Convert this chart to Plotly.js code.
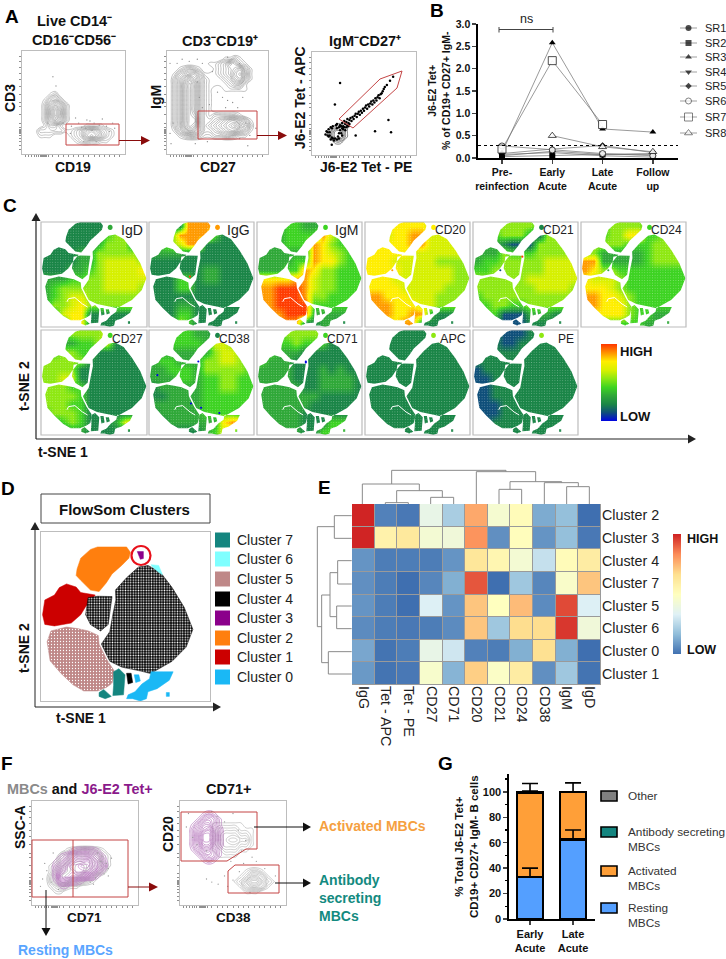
<!DOCTYPE html>
<html><head><meta charset="utf-8">
<script src="https://cdn.plot.ly/plotly-3.0.1.min.js"></script>
<style>html,body{margin:0;padding:0;background:#fff}#p{width:726px;height:959px}</style>
</head><body><div id="p"></div>
<script>
// ---------- Panel B data
const stages=['Pre-<br>reinfection','Early<br>Acute','Late<br>Acute','Follow<br>up'];
const SR1=[.05,.15,.08,.10], SR2=[.03,.05,.08,.08], SR3=[.12,2.58,.65,.58], SR4=[.08,.12,.05,.02];
const SR5=[.10,.20,.28,.12], SR6=[.27,.18,.10,.05], SR7=[.20,2.18,.75,null], SR8=[null,.50,.25,.14];
const srNames=['SR1','SR2','SR3','SR4','SR5','SR6','SR7','SR8'];
const srValues=[SR1,SR2,SR3,SR4,SR5,SR6,SR7,SR8];
const srSymbols=['circle','square','triangle-up','triangle-down','diamond','circle','square','triangle-up'];
const srOpen=[0,0,0,0,0,1,1,1];
const srSizes=[6,6,6,6,5,6,8,7];
// ---------- Panel E data
const heatCols=['IgG','Tet - APC','Tet - PE','CD27','CD71','CD20','CD21','CD24','CD38','IgM','IgD'];
const heatRows=['Cluster 2','Cluster 3','Cluster 4','Cluster 7','Cluster 5','Cluster 6','Cluster 0','Cluster 1'];
const heatZ=[
[1.0,.04,.02,.38,.22,.78,.45,.52,.13,.18,.0],
[1.0,.57,.62,.44,.42,.82,.07,.51,.08,.18,.02],
[.08,.03,.03,.03,.08,.63,.55,.44,.28,.52,.60],
[.07,.03,.0,.05,.14,.92,.0,.2,.05,.47,.72],
[.08,.03,.0,.33,.08,.72,.5,.74,.06,.94,.33],
[.06,.03,.02,.03,.06,.72,.2,.67,.67,.97,.42],
[.12,.01,.03,.38,.3,.04,.03,.14,.66,.14,.0],
[.09,.01,.02,.46,.15,.7,.48,.6,.07,.2,.01]];
const heatScale=['#3f6fb0','#8fbcd9','#dff1f6','#ffffbf','#fee090','#fc8d59','#d02424'];
// ---------- Panel G data
const gCats=['Early<br>Acute','Late<br>Acute'];
const resting=[33,62.5], activated=[66.5,37.5], antibody=[0,0], other=[.5,0];
const restingErr=[7,7.5], activatedErr=[7,7], otherErr=[.6,0];
// ---------- t-SNE map outline, map units
const mapOrange=[[23.6,85.7],[26,92.7],[32.4,98.4],[37,100],[56,100],[58.5,96.5],[57.5,92.7],[52.8,88],[46.5,82.5],[42.8,76.8],[38,71],[32.4,72],[26,78.3],[23,81.5]];
const mapRed=[[1,56],[2.5,65.6],[8.8,68.8],[12,73.6],[16.7,76],[23,74],[26,70.4],[35.5,68.8],[29,60.8],[26,56],[19.8,50.6],[8.8,48.7],[2.5,49.7]];
const mapSmall=[[30.8,67],[37,68],[46.5,67.8],[45,57.6],[44,49.7],[39,45.5],[32.4,49.6],[29.2,56]];
const mapLarge=[[48.7,72],[56,80],[63.8,87],[70,88],[78,83.8],[85.8,73.6],[93.7,60.8],[99.4,46.5],[95,35],[85.8,25.8],[71.7,17.8],[65.4,19.4],[52.8,22],[45,25.8],[39.5,37],[45,45],[47,56],[49,65.6]];
const mapPink=[[4,38.5],[6.5,45.5],[16.7,48],[24,47],[31,45.5],[37.5,42.5],[38,37],[43,27],[48,19.4],[46.5,11.5],[43,9],[37,6.5],[28,6.5],[21,10.5],[13,18],[6,26]];
const mapTeal=[[47.5,19],[51,21],[55,17],[54,4],[47,3.5],[47.5,10]];
const mapTeal2=[[38,5.5],[41,7.5],[46,3],[42,1.5],[38,3]];
const mapBlue=[[56,1.5],[57,4],[61.5,6],[66,11],[71,14.5],[72,19],[80,19],[86.5,19],[84,13.5],[76,8],[70,6],[69,1.5],[65,0],[60,1.5]];
const mapBitA=[[56,18],[59,18],[60,12],[57,11]];
const mapBitB=[[61,17],[64,17],[65,13],[62,12]];
const mapBitC=[[82,5.5],[84,5.5],[84,3],[82,3]];
const mapCyan=[[72,88.5],[77,88],[79.5,82],[77,83.5],[73,87]];
const mapPurple=[[63,97],[67,97],[67,92.5],[65,92]];
const mapRegions=[mapOrange,mapRed,mapSmall,mapLarge,mapPink,mapTeal,mapTeal2,mapBlue,mapBitA,mapBitB,mapBitC];
const mapArc=[[24.5,24],[26,27],[32,28],[39,22],[44,19]];
const mapBox=[[0,0],[100,0],[100,100],[0,100],[0,0]];
// ---------- t-SNE marker levels, 0 low to 9 high, rows top to bottom
const levelColors=['#0000e6','#0f4f7a','#1a8547','#2fa838','#3dd322','#8ee812','#d6f000','#ffee00','#ff9a00','#ff3c00'];
const IgD=['222222222222','222222245522','222222355522','222233555552','222233566665','222334566667','333445566666','345555566665','345665555555','355675555552','336772222222','222772222222'];
const IgG=['222288882222','224888842222','245688222222','333322222222','222222222222','222222332222','222442332222','222442222222','222222222222','222332222222','222442222222','222542222222'];
const IgM=['333443333333','223444486422','233444875444','333333876544','333344877544','333448755444','777788655444','889998655444','889998554444','889999444444','288999333332','228882233222'];
const CD20=['677777766666','666778866666','777778866666','777776666666','777666665555','777766666655','777666666655','777766666555','887776665555','888777665555','788778832222','777788222222'];
const CD21=['555555544444','224555315555','333211155555','333544455555','344555556666','445555556666','555555666666','555555566665','455555555555','445544555555','444111333222','222111222222'];
const CD24=['444555544444','444557744555','455554445555','553333345555','883333345555','875544444444','766654444444','777654444444','887765444444','887775444444','777775443333','554444433333'];
const CD27=['444555566222','443344562222','545544222222','555552222222','555522222222','556622222222','555442222222','555542222222','555442222222','455542222222','234542223672','222332222222'];
const CD38=['334443322222','334444366522','333333356652','344333556654','334443555554','333443445544','233333445544','223333444444','333333444444','233333444433','223333337882','222222346622'];
const CD71=['334555552222','334454442222','443332222222','433322222222','333322232322','333322233332','333332233332','333333322222','333333222222','333332222222','233332224443','223332244422'];
const APC=['222222222222','222222222222','222222222222','222222222222','222222222222','222222222222','222222222222','222222222222','222222222222','222222222222','222222222222','222222222222'];
const PE=['222111222222','222112222222','222222222222','222222222222','122222222222','112222222222','112222222222','112222222222','111222222222','111222222222','212222222222','222222222222'];
const panelNames=['IgD','IgG','IgM','CD20','CD21','CD24','CD27','CD38','CD71','APC','PE'];
const panelLabelSizes=[14,14,14,12,12,12,12,12,12,12.6,12];
const panelGrids=[IgD,IgG,IgM,CD20,CD21,CD24,CD27,CD38,CD71,APC,PE];
const panelDot=[3,8,4,7,2,4,4,2,4,5,5];
// spots: panel index, u, v, level
const spots=[[4,47,67,9],[4,26,54,1],[3,26,54,8],[5,26,54,3],[1,39,48,9],[7,8,57,0],[7,47,70,0],[7,49.6,26,0],[7,67,21,0],[7,40,30,0],[8,46.5,69,0],[8,46.5,70,0]];
// ---------- D legend
const clusterNames=['Cluster 7','Cluster 6','Cluster 5','Cluster 4','Cluster 3','Cluster 2','Cluster 1','Cluster 0'];
const clusterColors=['#14857f','#7fffff','#bf8888','#000000','#8b008b','#ff7f0e','#cc0000','#1ab8f5'];
// ---------- Flow density grids, 20x20, 0-9, rows top to bottom
const _='00000000000000000000';
const a1Grid=[_,_,_,_,_,_,_,_,'00000120000000000000','00001342000000000000','00002575200000000000','00002696200000000000','00002696200000000000','00002575200000000000','00001331000011110000','00022222112356532100','00011100012367642100','00000000001232211000',_,_];
const a2Grid=[_,'00000000000112100000','00000000112354210000','00123210012345631000','01345531112346741000','02468642111235631000','02479742111123310000','02479742100111110000','02479742100000000000','02479742100000000000','02479742100000000000','02479742100000000000','02479842122222100000','02479942234566431000','02479842345678652000','01357642234566431000','00123321122332110000',_,_,_];
const a3Grid=[_,_,_,_,_,_,_,_,_,_,_,_,_,_,'00001210000000000000','00013310000000000000','00013310000000000000','00001100000000000000',_,_];
const f1Gray=[_,_,_,_,_,_,_,_,_,'00000012344321000000','00000235666542100000','00001346777652100000','00012467887653100000','00013567886542000000','00024677765310000000','00024664432100000000','00012321100000000000','00001100000000000000',_,_];
const f1Purple=[_,_,_,_,_,_,_,_,_,'00000001222210000000','00000124555431000000','00001246778642000000','00002468899753000000','00002577888631000000','00002776654310000000','00001443210000000000','00000110000000000000',_,_,_];
const f2Gray=[_,_,_,_,'00000011111100000000','00000012222111000000','00000012333221000000','00000012344331000000','00000012333221000000','00000011222110000000','00000001111000000000',_,_,'00000000000012210000','00000000000124431000','00000000001246642100','00000000000134431000','00000000000011100000',_,_];
const f2Purple=[_,_,'00001210000000000000','00013431000000000000','00135531000000000000','00246742000000000000','00258852000000000000','00258852000000000000','00247742000000000000','00135531000000000000','00013431000000000000','00001210000000000000',_,_,_,_,_,_,_,_];
// scatter events outside the contours
const a1Dots=[[47,20],[40,30],[62,25],[70,30],[75,28],[82,27],[66,32],[58,26],[52,35],[48,27],[78,34],[85,22],[88,30],[60,12],[72,12],[30,75],[33,66],[25,30],[55,30],[63,33],[68,23],[90,25]];
const a2Dots=[[3,88],[10,88],[15,92],[22,90],[30,92],[35,88],[45,80],[50,60],[55,55],[60,52],[65,50],[72,15],[78,30],[82,18],[70,45],[75,55],[3,20],[4,10],[30,70],[32,55],[35,45],[42,48],[60,94],[72,88],[80,8],[40,12],[88,25],[6,30],[58,45],[28,10]];
const f1Dots=[[10,25],[14,33],[8,18],[18,22],[70,40],[72,35],[66,47],[75,45],[62,50],[68,30],[60,26],[55,22],[20,50],[65,42],[58,20],[72,28],[12,40],[25,15]];
const f2Dots=[[8,88],[6,75],[12,65],[16,58],[25,52],[30,90],[35,85],[42,80],[50,88],[55,72],[62,62],[58,52],[48,42],[60,40],[68,46],[25,25],[30,22],[36,20],[42,28],[45,18],[50,24],[56,32],[72,42],[66,12],[80,35],[90,28]];
const a3Points=[[27,29],[29,31],[30,28],[31,33],[32,30],[33,32],[34,35],[35,31],[36,34],[37,36],[38,33],[39,37],[40,35],[41,38],[42,40],[43,37],[44,40],[45,42],[46,39],[47,43],[48,41],[49,45],[50,43],[51,46],[52,48],[53,45],[54,49],[55,47],[56,50],[57,52],[58,49],[59,53],[60,51],[61,55],[62,53],[63,56],[64,58],[65,55],[66,59],[67,60],[68,62],[69,64],[70,66],[72,68],[75,72],[78,76],
[27,70],[22,49],[73.5,34],[60.6,23],[76,22],[42,19],[19,10],
[15,22],[16,25],[17,19],[18,27],[19,17],[20,28],[22,16],[23,29],[25,18],[26,27],[27,24],[28,21],[14,23],[21,14],[24,15],[29,26],[30,25],[31,27],[32,24],[33,27],[34,29],[35,28],[36,30],[13,20],[18,15],[16,18],[24,30],[28,28],[26,16],[29,19],[17,22],[26,21],[19,26],[24,26],[20,16],[15,19]];
const flowTicksX=[3,6,9,12,14,16,18,19,20,21,22,23,24,26,30,35,40,45,50,55,60,65,70,75,80,85,90,95];
const flowTicksY=[4,8,12,15,18,20,21,22,23,24,26,30,38,46,50,58,66,72,78,84,90,95];

// ---------- helpers
const W=726,H=959,FONT='"Liberation Sans",Arial,sans-serif';
const fx=p=>p/W, fy=p=>1-p/H;
const traces=[],shapes=[],annos=[],layout={};
let axN=0;
function addAxes(x0,x1,y0,y1,xo,yo){
  axN++;const s=axN===1?'':axN;
  const base={showgrid:false,zeroline:false,showticklabels:false,ticks:'',fixedrange:true,showline:false};
  layout['xaxis'+s]=Object.assign({},base,{domain:[fx(x0),fx(x1)],anchor:'y'+s},xo);
  layout['yaxis'+s]=Object.assign({},base,{domain:[fy(y1),fy(y0)],anchor:'x'+s},yo);
  return {x:'x'+s,y:'y'+s};
}
function txt(x,y,t,o={}){
  annos.push({xref:'paper',yref:'paper',x:fx(x),y:fy(y),text:o.bold===false?t:'<b>'+t+'</b>',showarrow:false,
    xanchor:o.anchor||'center',yanchor:'middle',textangle:o.angle||0,align:o.align||'center',
    font:{family:FONT,size:o.size||13.5,color:o.color||'#111'}});
}
function line(x0,y0,x1,y1,c,w){shapes.push({type:'line',xref:'paper',yref:'paper',x0:fx(x0),y0:fy(y0),x1:fx(x1),y1:fy(y1),line:{color:c,width:w}});}
function poly(pts,stroke,w,fill){
  shapes.push({type:'path',xref:'paper',yref:'paper',path:'M'+pts.map(p=>fx(p[0])+','+fy(p[1])).join('L')+'Z',line:{color:stroke||'rgba(0,0,0,0)',width:w||0},fillcolor:fill||'rgba(0,0,0,0)'});
}
function rect(x0,y0,x1,y1,stroke,w,fill,layer){
  shapes.push({type:'rect',xref:'paper',yref:'paper',x0:fx(x0),y0:fy(y0),x1:fx(x1),y1:fy(y1),line:{color:stroke||'rgba(0,0,0,0)',width:w||0},fillcolor:fill||'rgba(0,0,0,0)',layer:layer||'above'});
}
function arrow(x0,y0,x1,y1,c,w,hl,hw){
  const L=Math.hypot(x1-x0,y1-y0),ux=(x1-x0)/L,uy=(y1-y0)/L;
  line(x0,y0,x1-ux*hl,y1-uy*hl,c,w);
  const bx=x1-ux*hl,by=y1-uy*hl;
  poly([[x1,y1],[bx-uy*hw,by+ux*hw],[bx+uy*hw,by-ux*hw]],c,0,c);
}
const parse=g=>g.map(r=>r.split('').map(Number));
const c20=Array.from({length:20},(_,i)=>2.5+i*5);
function contour(ax,grid,color,w){
  traces.push({type:'contour',xaxis:ax.x,yaxis:ax.y,x:c20,y:c20,z:parse(grid).reverse(),showscale:false,autocontour:false,
    contours:{coloring:'lines',start:.7,end:9.1,size:.5},line:{color:color,width:w||.45,smoothing:1.3},colorscale:[[0,color],[1,color]],hoverinfo:'skip'});
}
function dots(ax,d,color,size){
  traces.push({type:'scatter',mode:'markers',xaxis:ax.x,yaxis:ax.y,x:d.map(p=>p[0]),y:d.map(p=>p[1]),marker:{color:color,size:size,line:{width:0}},hoverinfo:'skip'});
}
function flowAxes(x0,x1,y0,y1){
  const bx={range:[0,100],showline:true,mirror:true,linecolor:'#bdbdbd',linewidth:1,ticks:'outside',ticklen:2,tickwidth:.6,tickcolor:'#444',tickmode:'array'};
  return addAxes(x0,x1,y0,y1,Object.assign({},bx,{tickvals:flowTicksX}),Object.assign({},bx,{tickvals:flowTicksY}));
}
const GATE='#c44545',DARKRED='#8a0c0c';

// ---------- Panel A
txt(12,17,'A',{size:19,color:'#000'});
let ax=flowAxes(22,125,51,154); contour(ax,a1Grid,'#858585',.45); dots(ax,a1Dots,'#999',1.4);
rect(66,124,119,145,GATE,1); arrow(119,140.5,150,140.5,DARKRED,1,9,4.5);
txt(74,21,'Live CD14\u207B',{size:14.5}); txt(74,40,'CD16\u207BCD56\u207B',{size:14.5});
txt(73,167,'CD19',{size:14}); txt(10,98,'CD3',{size:14,angle:-90});
ax=flowAxes(167,268,51,154); contour(ax,a2Grid,'#777',.45); dots(ax,a2Dots,'#888',1.3);
rect(198,111,257,139,GATE,1); arrow(257,135.5,287,135.5,DARKRED,1,9,4.5);
txt(220,41,'CD3\u207BCD19\u207A',{size:14.5}); txt(218,167,'CD27',{size:14}); txt(156,97,'IgM',{size:14,angle:-90});
ax=flowAxes(312,416,52,155); contour(ax,a3Grid,'#333',.6); dots(ax,a3Points,'#000',2.5);
poly([[339,119],[380,79],[402,71],[397,88],[353,128]],GATE,1);
txt(365,41,'IgM\u207BCD27\u207A',{size:14.5}); txt(366,167,'J6-E2 Tet - PE',{size:14}); txt(300,98,'J6-E2 Tet - APC',{size:14,angle:-90});

// ---------- Panel B
txt(437,11,'B',{size:19,color:'#000'});
ax=addAxes(478,678,24,158,
 {range:[-.477,3.5],showline:true,linecolor:'#000',linewidth:1.6,ticks:'outside',ticklen:4,tickwidth:1.4,tickmode:'array',tickvals:[0,1,2,3],ticktext:stages.map(s=>'<b>'+s.replace('<br>','</b><br><b>')+'</b>'),showticklabels:true,tickfont:{family:FONT,size:10.5,color:'#111'}},
 {range:[0,3],showline:true,linecolor:'#000',linewidth:1.6,ticks:'outside',ticklen:4,tickwidth:1.4,tickmode:'array',tickvals:[0,.5,1,1.5,2,2.5,3],ticktext:['0.0','0.5','1.0','1.5','2.0','2.5','3.0'].map(s=>'<b>'+s+'</b>'),showticklabels:true,tickfont:{family:FONT,size:10.5,color:'#111'}});
srValues.forEach((v,i)=>traces.push({type:'scatter',mode:'lines+markers',xaxis:ax.x,yaxis:ax.y,x:[0,1,2,3],y:v,cliponaxis:false,
  line:{color:'#6e6e6e',width:.7},marker:{symbol:srSymbols[i],size:srSizes[i],color:srOpen[i]?'rgba(255,255,255,.9)':'#000',line:{color:'#222',width:srOpen[i]?.8:0}}}));
line(478,145.5,678,145.5,'#000',1);shapes[shapes.length-1].line.dash='dot';
line(499,29.5,553,29.5,'#444',1);line(499,27,499,32.5,'#444',1);line(553,27,553,32.5,'#444',1);
txt(526,19,'ns',{bold:false,size:12.5,color:'#222'});
txt(439,90,'J6-E2 Tet+<br>% of CD19+ CD27+ IgM-',{size:10.5,angle:-90});
const legendRowsPx=[28,43,57,72,86,101,117,133];
ax=addAxes(680,697,20,140,{range:[0,1]},{range:[140,20]});
srValues.forEach((v,i)=>{
  traces.push({type:'scatter',mode:'lines+markers',xaxis:ax.x,yaxis:ax.y,x:[0,.5,1],y:[legendRowsPx[i],legendRowsPx[i],legendRowsPx[i]],cliponaxis:false,
  line:{color:'#777',width:.7},marker:{symbol:srSymbols[i],size:[0,srSizes[i],0],color:srOpen[i]?'#fff':'#000',line:{color:'#222',width:srOpen[i]?.8:0}}});
  txt(703,legendRowsPx[i],srNames[i],{bold:false,size:11,anchor:'left',color:'#222'});
});

// ---------- Panel C
txt(10,206,'C',{size:19,color:'#000'});
const cCols=[[41,147],[149,254],[257,362],[365,470],[473,578],[581,686]];
const cPanels=[[0,0],[1,0],[2,0],[3,0],[4,0],[5,0],[0,1],[1,1],[2,1],[3,1],[4,1]];
const cRows=[[222,327],[330,435]];
const c12=Array.from({length:12},(_,i)=>(i+.5)*100/12);
const levelScale=levelColors.map((c,i)=>[i/9,c]);
const ringPath=pts=>'M'+pts.map(p=>p[0]+','+p[1]).join('L')+'Z';
const maskPath='M0,0L100,0L100,100L0,100Z'+mapRegions.map(ringPath).join('');
panelGrids.forEach((g,i)=>{
  const [cx,ry]=cPanels[i],[x0,x1]=cCols[cx],[y0,y1]=cRows[ry];
  const a=addAxes(x0,x1,y0,y1,{range:[0,100]},{range:[0,100]});
  traces.push({type:'heatmap',xaxis:a.x,yaxis:a.y,x:c12,y:c12,z:parse(g).reverse(),zmin:0,zmax:9,zsmooth:'best',colorscale:levelScale,showscale:false,hoverinfo:'skip'});
  traces.push({type:'scatter',mode:'lines',xaxis:a.x,yaxis:a.y,x:mapBox.map(p=>p[0]),y:mapBox.map(p=>p[1]),fill:'toself',fillcolor:'rgba(0,0,0,0)',line:{width:0},hoverinfo:'skip',
    fillpattern:{shape:'.',fgcolor:'#ffffff',fgopacity:.4,bgcolor:'rgba(0,0,0,0)',size:2.6,solidity:.12,fillmode:'overlay'}});
  traces.push({type:'scatter',mode:'lines',xaxis:a.x,yaxis:a.y,x:mapArc.map(p=>p[0]),y:mapArc.map(p=>p[1]),line:{color:'#fff',width:1},hoverinfo:'skip'});
  shapes.push({type:'path',xref:a.x,yref:a.y,path:maskPath,fillcolor:'#fff',fillrule:'evenodd',line:{width:0}});
  shapes.push({type:'circle',xref:a.x,yref:a.y,x0:63,x1:67.5,y0:92.5,y1:97.5,fillcolor:levelColors[panelDot[i]],line:{width:0}});
  spots.filter(s=>s[0]===i).forEach(s=>shapes.push({type:'circle',xref:a.x,yref:a.y,x0:s[1]-1,x1:s[1]+1,y0:s[2]-1,y1:s[2]+1,fillcolor:levelColors[s[3]],line:{width:0}}));
  rect(x0,y0,x1,y1,'#bcbcbc',1.2);
  txt(x1-2,y0+8.5,panelNames[i],{bold:false,size:panelLabelSizes[i],anchor:'right',color:'#222'});
});
ax=addAxes(601,617,344,421,{range:[0,1]},{range:[0,9]});
const barLevels=[0,1,2,3,4,5,6,7,8,9];
traces.push({type:'heatmap',xaxis:ax.x,yaxis:ax.y,x:[0,1],y:barLevels,z:barLevels.map(v=>[v,v]),zmin:0,zmax:9,zsmooth:'best',colorscale:levelScale,showscale:false,hoverinfo:'skip'});
txt(618,351,'HIGH',{size:13,anchor:'left'}); txt(618,416,'LOW',{size:13,anchor:'left'});
arrow(36,439,36,213,'#222',1.2,8,4.5); arrow(36,439,696,439,'#222',1.2,8,4.5);
txt(24,386,'t-SNE 2',{size:14,angle:-90}); txt(63,452,'t-SNE 1',{size:14});

// ---------- Panel D
txt(8,488,'D',{size:19,color:'#000'});
rect(41,494,210,523,'#444',1); txt(124,509,'FlowSom Clusters',{size:15,color:'#111'});
ax=addAxes(41,210,532,701,{range:[0,110.6],showline:true,mirror:true,linecolor:'#bdbdbd',linewidth:1},{range:[0,109.7],showline:true,mirror:true,linecolor:'#bdbdbd',linewidth:1});
const dRegions=[[mapOrange,'#ff7f0e'],[mapRed,'#cc0000'],[mapSmall,'#000000'],[mapLarge,'#000000'],[mapPink,'#bf8888'],[mapTeal,'#14857f'],[mapTeal2,'#14857f'],[mapBlue,'#1ab8f5'],[mapBitA,'#000'],[mapBitB,'#1ab8f5'],[mapBitC,'#1ab8f5'],[mapCyan,'#7fffff'],[mapPurple,'#8b008b']];
dRegions.forEach(([pts,c])=>{
  const closed=pts.concat([pts[0]]);
  const tr={type:'scatter',mode:'lines',xaxis:ax.x,yaxis:ax.y,x:closed.map(p=>p[0]),y:closed.map(p=>p[1]),fill:'toself',fillcolor:c,line:{color:c,width:.5},hoverinfo:'skip'};
  if(c==='#000000') tr.fillpattern={shape:'.',fgcolor:'#ffffff',bgcolor:'#000000',size:2.6,solidity:.3,fillmode:'replace'};
  if(c==='#bf8888') tr.fillpattern={shape:'.',fgcolor:'#ffffff',bgcolor:'#bf8888',size:3,solidity:.14,fillmode:'replace'};
  traces.push(tr);
});
shapes.push({type:'circle',xref:'paper',yref:'paper',x0:fx(131.5),x1:fx(150.5),y0:fy(565),y1:fy(546),line:{color:'#e8101a',width:2.2}});
clusterNames.forEach((n,i)=>{
  const yc=[540,559,579,599,618,638,657,677][i];
  rect(215,yc-7.5,230,yc+7.5,null,0,clusterColors[i]);
  txt(235,yc,n,{bold:false,size:14,anchor:'left',color:'#222'});
});
arrow(35,707,35,522,'#222',1,8,4.5); arrow(35,707,221,707,'#222',1,8,4.5);
txt(24,648,'t-SNE 2',{size:14,angle:-90}); txt(81,718,'t-SNE 1',{size:14});

// ---------- Panel E
txt(324,487,'E',{size:19,color:'#000'});
rect(352,504,601,685,null,0,'#9a9a9a','below');
const axisFont={family:FONT,size:14.3,color:'#222'};
ax=addAxes(352,601,504,685,
 {type:'category',showticklabels:true,tickangle:90,tickfont:axisFont,tickmode:'array',tickvals:heatCols,ticktext:heatCols},
 {type:'category',autorange:'reversed',side:'right',showticklabels:true,tickfont:axisFont,tickmode:'array',tickvals:heatRows,ticktext:heatRows});
traces.push({type:'heatmap',xaxis:ax.x,yaxis:ax.y,x:heatCols,y:heatRows,z:heatZ,zmin:0,zmax:1,xgap:1,ygap:1,showscale:false,colorscale:heatScale.map((c,i)=>[i/6,c]),hoverinfo:'skip'});
const dendroSegs=[ // top tree then left tree, as zoomed px pairs
[275,1,618,1],[275,1,275,42],[618,1,618,5],[529,5,707,5],[529,5,529,102],[707,5,707,35],
[187,42,358,42],[187,42,187,102],[358,42,358,62],[290,62,427,62],[290,62,290,98],[256,98,325,98],[256,98,256,102],[325,98,325,102],[427,62,427,82],[392,82,461,82],[392,82,392,102],[461,82,461,102],
[630,35,785,35],[630,35,630,58],[597,58,665,58],[597,58,597,102],[665,58,665,102],[785,35,785,38],[733,38,835,38],[733,38,733,102],[835,38,835,50],[800,50,868,50],[800,50,800,102],[868,50,868,102],
[52,170,52,470],[52,170,103,170],[103,137,103,205],[103,137,155,137],[103,205,155,205],[52,470,65,470],[65,375,65,578],[65,375,90,375],[65,578,85,578],[85,545,85,612],[85,545,155,545],[85,612,155,612],
[90,308,90,440],[90,308,113,308],[113,272,113,342],[113,272,155,272],[113,342,155,342],[90,440,110,440],[110,408,110,476],[110,408,155,408],[110,476,155,476]];
dendroSegs.forEach(s=>line(300+s[0]/3,470+s[1]/3,300+s[2]/3,470+s[3]/3,'#8a8a8a',1));
ax=addAxes(673,681,534,654,{range:[0,1]},{range:[0,1]});
const ebar=[0,1/6,2/6,3/6,4/6,5/6,1];
traces.push({type:'heatmap',xaxis:ax.x,yaxis:ax.y,x:[0,1],y:ebar,z:ebar.map(v=>[v,v]),zmin:0,zmax:1,zsmooth:'best',colorscale:heatScale.map((c,i)=>[i/6,c]),showscale:false,hoverinfo:'skip'});
txt(685,539,'HIGH',{size:12.5,anchor:'left'}); txt(685,650,'LOW',{size:12.5,anchor:'left'});

// ---------- Panel F
txt(7,763,'F',{size:19,color:'#000'});
txt(80,789,'<span style="color:#8a8a8a">MBCs</span> and <span style="color:#8b1a8b">J6-E2 Tet+</span>',{size:14.4});
txt(229,789,'CD71+',{size:14.5});
ax=flowAxes(32,138,801,905); dots(ax,f1Dots,'#999',1.3); contour(ax,f1Gray,'#8a8a8a',.45); contour(ax,f1Purple,'#b566bd',.5);
rect(32,840,128,897,GATE,1); line(73,840,73,897,GATE,1);
arrow(128,887,158,887,DARKRED,1,9,4.5); arrow(46,890,46,936,'#111',1,8,4.5);
txt(20,827,'SSC-A',{size:14,angle:-90}); txt(84,917,'CD71',{size:13.5});
txt(65,950,'Resting MBCs',{size:14,color:'#5aa5ff'});
ax=flowAxes(180,286,801,905); dots(ax,f2Dots,'#999',1.3); contour(ax,f2Gray,'#8a8a8a',.4); contour(ax,f2Purple,'#a050a8',.5);
poly([[181,812],[257,812],[257,849],[246,849],[227,861],[181,861]],GATE,1);
poly([[228,871],[235,865],[279,865],[279,893],[228,893]],GATE,1);
arrow(254,827,311,827,'#111',1,8,4.5); arrow(275,883,311,883,'#111',1,8,4.5);
txt(168,834,'CD20',{size:14,angle:-90}); txt(233,917,'CD38',{size:13.5});
txt(317,826,'Activated MBCs',{size:14,color:'#f5a040',anchor:'left'});
txt(317,898,'Antibody<br>secreting<br>MBCs',{size:14,color:'#138a80',anchor:'left',align:'left'});

// ---------- Panel G
txt(445,763,'G',{size:19,color:'#000'});
ax=addAxes(509,595,774,919,
 {range:[-.488,1.51],showline:true,linecolor:'#000',linewidth:1.6,ticks:'outside',ticklen:4,tickwidth:1.4,tickmode:'array',tickvals:[0,1],ticktext:gCats.map(s=>'<b>'+s.replace('<br>','</b><br><b>')+'</b>'),showticklabels:true,tickfont:{family:FONT,size:11,color:'#111'}},
 {range:[0,114],showline:true,linecolor:'#000',linewidth:1.6,ticks:'outside',ticklen:4,tickwidth:1.4,tickmode:'array',tickvals:[0,20,40,60,80,100],ticktext:['0','20','40','60','80','100'].map(s=>'<b>'+s+'</b>'),showticklabels:true,tickfont:{family:FONT,size:11,color:'#111'},minor:{tickvals:[10,30,50,70,90,110],ticks:'outside',ticklen:2.5,tickwidth:1.2,tickcolor:'#000'}});
layout.barmode='stack';
const gSeries=[[resting,'#549fff'],[activated,'#ff9f38'],[antibody,'#14857f'],[other,'#808080']];
gSeries.forEach(([v,c])=>{
  traces.push({type:'bar',xaxis:ax.x,yaxis:ax.y,x:[0,1],y:v,width:.62,marker:{color:c,line:{color:'#000',width:v.some(n=>n>1)?2.2:0}},hoverinfo:'skip'});
});
// error bars sit above the stack, so they are carried by invisible points at each stack top
const errStart=[resting,resting.map((v,i)=>v+activated[i]),resting.map((v,i)=>v+activated[i]+other[i])];
[restingErr,activatedErr,otherErr].forEach((e,k)=>traces.push({type:'scatter',mode:'markers',xaxis:ax.x,yaxis:ax.y,x:[0,1],y:errStart[k],marker:{size:1,opacity:0},hoverinfo:'skip',
  error_y:{type:'data',symmetric:false,array:e,arrayminus:[0,0],color:'#000',thickness:1.6,width:8}}));
txt(466,847,'% Total J6-E2 Tet+<br>CD19+ CD27+ IgM- B cells',{size:11.5,angle:-90});
const gLeg=[['Other','#808080',796,796],['Antibody secreting<br>MBCs','#14857f',832,839],['Activated<br>MBCs','#ff9f38',871,878],['Resting<br>MBCs','#549fff',908,915]];
gLeg.forEach(([t,c,ys,yt])=>{
  rect(601,ys-5,617,ys+5,'#000',1.6,c);
  txt(626,yt,t,{bold:false,size:11.8,anchor:'left',align:'left',color:'#333'});
});

Object.assign(layout,{width:W,height:H,margin:{l:0,r:0,t:0,b:0},showlegend:false,paper_bgcolor:'#fff',plot_bgcolor:'rgba(0,0,0,0)',font:{family:FONT},shapes:shapes,annotations:annos});
Plotly.newPlot('p',traces,layout,{staticPlot:true,displayModeBar:false});
</script></body></html>
